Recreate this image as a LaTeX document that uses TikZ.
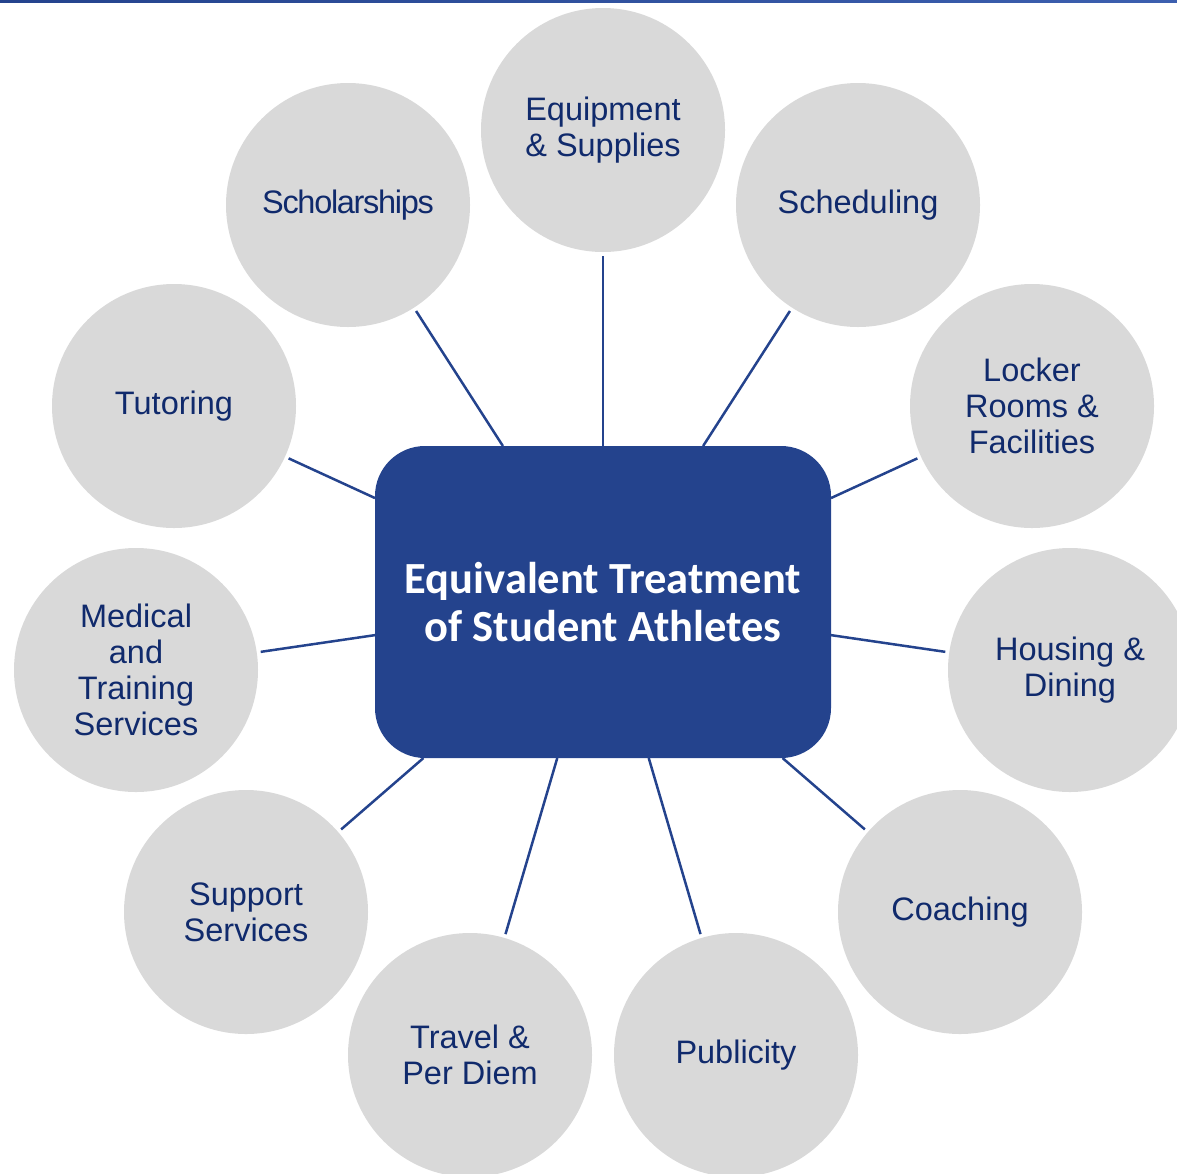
\documentclass[tikz,border=0pt]{standalone}
\usepackage{fontspec}
\setmainfont{Liberation Sans}
\newfontfamily\boxfont{Carlito}
\usetikzlibrary{positioning}
\definecolor{ettblue}{RGB}{36,67,141}
\definecolor{ettlight}{RGB}{60,95,175}
\definecolor{topicgray}{RGB}{217,217,217}
\definecolor{topictext}{RGB}{16,42,108}
\tikzset{
  topic/.style={circle, fill=topicgray, minimum size=244pt, inner sep=0pt, outer sep=4pt,
    align=center, text=topictext, font=\fontsize{32.5}{36}\selectfont},
  hub/.style={rectangle, rounded corners=50pt, fill=ettblue, minimum width=456pt,
    minimum height=312pt, inner sep=0pt, outer sep=0pt, align=center, text=white,
    font=\boxfont\bfseries\fontsize{44.5}{48}\selectfont},
  spoke/.style={draw=ettblue, line width=2.5pt}
}

\begin{document}
\begin{tikzpicture}[x=1pt, y=-1pt]
    \useasboundingbox (0,0) rectangle (1177,1173);
    \clip (0,0) rectangle (1177,1173);
    % top rule
    \shade[left color=ettblue, right color=ettlight] (0,0) rectangle (1177,2.2);

    \node[hub] (ett) at (603,602) {Equivalent Treatment\\of Student Athletes};

    \node[topic] (equip)   at (603,130)  {Equipment\\\& Supplies};
    \node[topic] (schol)   at (348,205)  {\addfontfeature{LetterSpace=-4}Scholarships};
    \node[topic] (sched)   at (858,205)  {Scheduling};
    \node[topic] (tutor)   at (174,406)  {Tutoring};
    \node[topic] (locker)  at (1032,406) {Locker\\Rooms \&\\Facilities};
    \node[topic] (medical) at (136,670)  {Medical\\and\\Training\\Services};
    \node[topic] (housing) at (1070,670) {Housing \&\\Dining};
    \node[topic] (support) at (246,912)  {Support\\Services};
    \node[topic] (coach)   at (960,912)  {Coaching};
    \node[topic] (travel)  at (470,1055) {Travel \&\\Per Diem};
    \node[topic] (public)  at (736,1055) {Publicity};

    \draw[spoke] (ett) edge (equip)
          (ett) edge (schol)
          (ett) edge (sched)
          (ett) edge (tutor)
          (ett) edge (locker)
          (ett) edge (medical)
          (ett) edge (housing)
          (ett) edge (support)
          (ett) edge (coach)
          (ett) edge (travel)
          (ett) edge (public);
\end{tikzpicture}
\end{document}
